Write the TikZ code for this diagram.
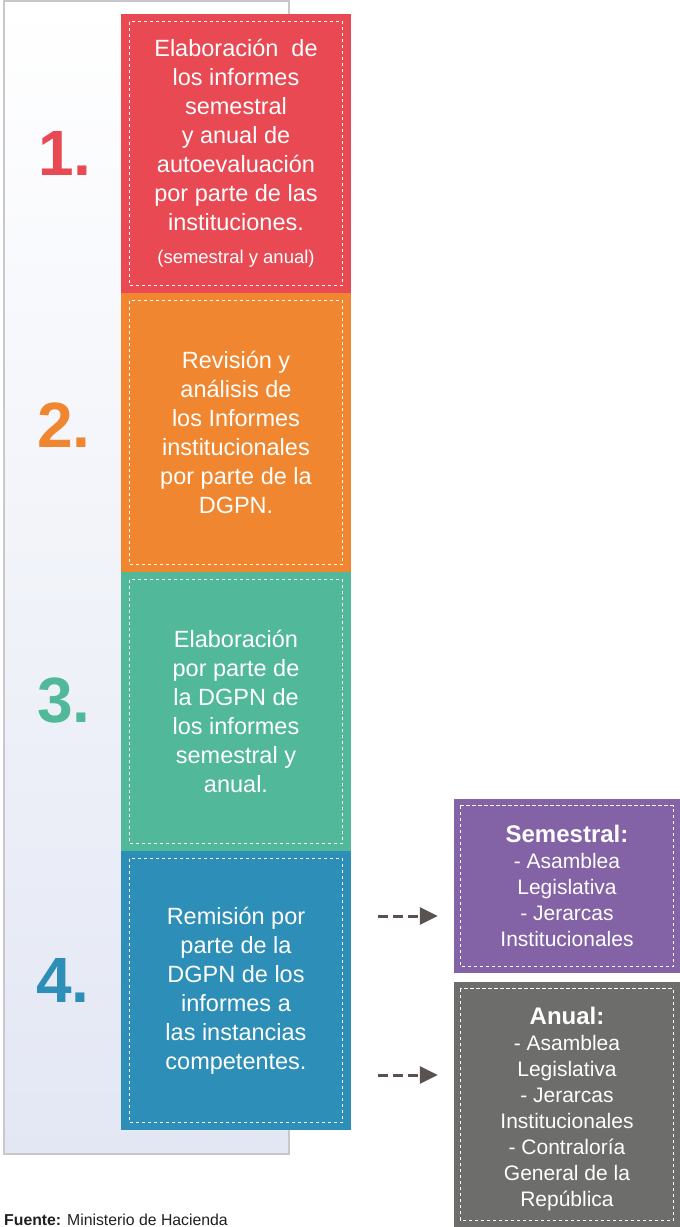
\documentclass[tikz,border=0pt]{standalone}
\usepackage{fontspec}
\setmainfont{Liberation Sans}
\usetikzlibrary{arrows.meta}
\definecolor{cred}{RGB}{232,73,83}
\definecolor{corange}{RGB}{240,134,48}
\definecolor{cgreen}{RGB}{81,185,153}
\definecolor{cblue}{RGB}{45,142,183}
\definecolor{cpurple}{RGB}{131,98,165}
\definecolor{cgray}{RGB}{109,109,107}
\definecolor{panelbot}{RGB}{227,231,244}
\definecolor{panelline}{RGB}{200,200,203}
\definecolor{arrowgray}{RGB}{90,82,79}
\definecolor{srctext}{RGB}{35,31,32}
\newcommand{\sidetitle}[1]{{\fontsize{24}{26}\selectfont\bfseries #1}}
\begin{document}
\begin{tikzpicture}[x=1pt,y=-1pt,
  stepbox/.style={inner sep=0pt, minimum width=230pt, minimum height=279.2pt, text=white, align=center, font=\fontsize{23.5}{29}\selectfont},
  sidebox/.style={inner sep=0pt, minimum width=226pt, text=white, align=center, font=\fontsize{21}{26}\selectfont},
  innerdash/.style={draw=white, line width=1.1pt, dash pattern=on 3.5pt off 2.5pt},
  numlabel/.style={anchor=base, inner sep=0pt, font=\fontsize{64}{64}\selectfont\bfseries},
  flowarrow/.style={draw=arrowgray, line width=3pt, dash pattern=on 10pt off 5pt, -{Triangle[length=18pt,width=17pt,fill=arrowgray]}, shorten >=16pt}
]
\useasboundingbox (0,0) rectangle (680,1227);
% background panel
\node[draw=panelline, line width=1.2pt, top color=white, bottom color=panelbot, minimum width=285pt, minimum height=1153pt, inner sep=0pt] (panel) at (146.5,577.5) {};
% step boxes
\node[stepbox, fill=cred] (b1) at (236,153.6) {Elaboración\ \ de\\los informes\\semestral\\y anual de\\autoevaluación\\por parte de las\\instituciones.\\[4pt]{\fontsize{18.5}{22}\selectfont (semestral y anual)}};
\node[stepbox, fill=corange] (b2) at (236,432.6) {Revisión y\\análisis de\\los Informes\\institucionales\\por parte de la\\DGPN.};
\node[stepbox, fill=cgreen] (b3) at (236,711.6) {Elaboración\\por parte de\\la DGPN de\\los informes\\semestral y\\anual.};
\node[stepbox, fill=cblue] (b4) at (236,990.6) {Remisión por\\parte de la\\DGPN de los\\informes a\\las instancias\\competentes.};
\foreach \b in {b1,b2,b3,b4}{
  \draw[innerdash] ([shift={(8.5pt,-8pt)}]\b.north west) rectangle ([shift={(-8.5pt,8pt)}]\b.south east);
}
% numbers
\node[numlabel, text=cred] (n1) at (65,175) {1.};
\node[numlabel, text=corange] (n2) at (64,447) {2.};
\node[numlabel, text=cgreen] (n3) at (64,722) {3.};
\node[numlabel, text=cblue] (n4) at (63,1002) {4.};
% side boxes
\node[sidebox, fill=cpurple, minimum height=174pt] (s1) at (567,886) {\sidetitle{Semestral:}\\- Asamblea\\Legislativa\\- Jerarcas\\Institucionales};
\node[sidebox, fill=cgray, minimum height=245pt] (s2) at (567,1104.5) {\rule{0pt}{27pt}\sidetitle{Anual:}\\- Asamblea\\Legislativa\\- Jerarcas\\Institucionales\\- Contraloría\\General de la\\República};
\foreach \b in {s1,s2}{
  \draw[innerdash] ([shift={(6.5pt,-7pt)}]\b.north west) rectangle ([shift={(-6.5pt,7pt)}]\b.south east);
}
% arrows
\coordinate (a1) at (378,916);
\coordinate (a2) at (378,1075);
\draw[flowarrow] (a1) -- (s1.west |- a1);
\draw[flowarrow] (a2) -- (s2.west |- a2);
% source
\node[anchor=base west, inner sep=0pt, text=srctext, font=\fontsize{15.8}{18}\selectfont] (src) at (4,1225) {\textbf{Fuente:} Ministerio de Hacienda};
\end{tikzpicture}
\end{document}
